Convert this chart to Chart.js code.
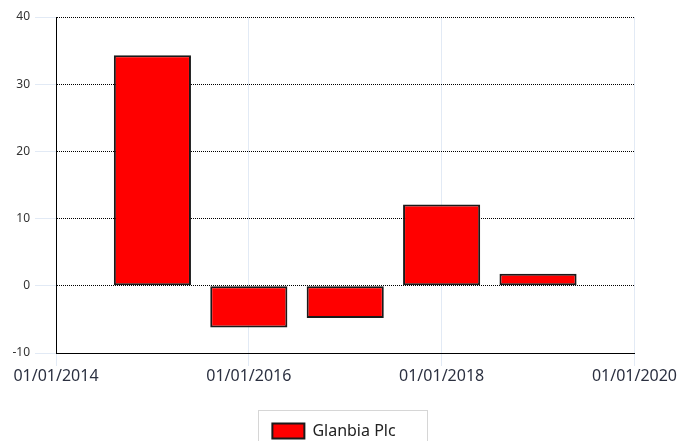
<!DOCTYPE html>
<html>
<head>
<meta charset="utf-8">
<script src="https://cdn.jsdelivr.net/npm/chart.js@4"></script>
<style>
    html, body { margin: 0; padding: 0; background: #fff; }
    #wrap { width: 678px; height: 441px; }
</style>
</head>
<body>
<div id="wrap"><canvas id="chart" width="678" height="441"></canvas></div>
<script>
// Chart data
const years = [2015, 2016, 2017, 2018, 2019];
const values = [34.3, -6.2, -4.8, 12.1, 1.8];
const seriesName = 'Glanbia Plc';
const xTicks = [2014, 2016, 2018, 2020];
const yTicks = [-10, 0, 10, 20, 30, 40];

const lightBlue = '#e2eaf5';
const legendFont = { family: 'Noto Sans', size: 16 };

// Draws the grey frame around the legend
const legendFrame = {
    id: 'legendFrame',
    afterDraw(chart) {
        const boxes = chart.legend.legendHitBoxes;
        if (!boxes || !boxes.length) return;
        const hb = boxes[0];
        const ctx = chart.ctx;
        ctx.save();
        ctx.font = legendFont.size + 'px "' + legendFont.family + '"';
        const textW = ctx.measureText(seriesName).width;
        ctx.strokeStyle = '#d6d6d6';
        ctx.lineWidth = 1;
        const left = Math.round(hb.left - 14) + 0.5;
        const top = Math.round(hb.top - 13) + 0.5;
        const right = Math.round(hb.left + 32 + legendFont.size / 2 + textW + 31) + 0.5;
        ctx.strokeRect(left, top, right - left, 60);
        ctx.restore();
    }
};

new Chart(document.getElementById('chart'), {
    type: 'bar',
    data: {
        datasets: [{
            label: seriesName,
            data: years.map((y, i) => ({ x: y, y: values[i] })),
            backgroundColor: '#ff0000',
            borderColor: '#1a1a1a',
            borderWidth: 2,
            borderSkipped: false,
            categoryPercentage: 0.8,
            barPercentage: 1
        }]
    },
    options: {
        responsive: false,
        animation: false,
        layout: { padding: { top: 17, right: 10, left: 0, bottom: -8 } },
        plugins: {
            legend: {
                position: 'bottom',
                labels: {
                    boxWidth: 32,
                    boxHeight: 15,
                    padding: 12,
                    color: '#222',
                    font: legendFont
                }
            },
            tooltip: { enabled: false }
        },
        scales: {
            x: {
                type: 'linear',
                offset: false,
                min: xTicks[0],
                max: xTicks[xTicks.length - 1],
                afterBuildTicks: scale => { scale.ticks = xTicks.map(v => ({ value: v })); },
                afterFit: scale => { scale.height = 58; },
                grid: {
                    offset: false,
                    color: ctx => ctx.tick && ctx.tick.value === xTicks[0] ? 'rgba(0,0,0,0)' : lightBlue,
                    tickColor: lightBlue,
                    tickLength: 13
                },
                border: { display: true, color: '#000', width: 1 },
                ticks: {
                    padding: 1,
                    color: '#2b3040',
                    maxRotation: 0,
                    font: { family: 'Noto Sans', size: 16 },
                    callback: v => '01/01/' + v
                }
            },
            y: {
                min: yTicks[0],
                max: yTicks[yTicks.length - 1],
                afterBuildTicks: scale => { scale.ticks = yTicks.map(v => ({ value: v })); },
                afterFit: scale => { scale.width = 56; },
                grid: {
                    color: '#000',
                    tickColor: lightBlue,
                    tickLength: 21,
                    tickBorderDash: []
                },
                border: { display: true, color: '#000', width: 1, dash: [1, 1] },
                ticks: {
                    padding: 5,
                    color: '#333',
                    font: { family: 'Noto Sans', size: 12 }
                }
            }
        }
    },
    plugins: [legendFrame]
});
</script>
</body>
</html>
